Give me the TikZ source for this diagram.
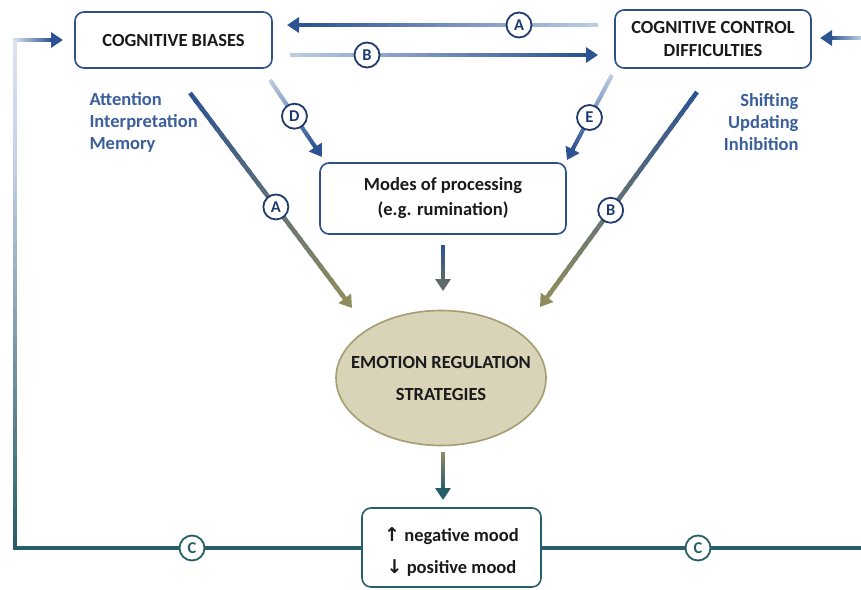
\documentclass[tikz,border=0pt]{standalone}
\usepackage{fontspec}
\setmainfont{Carlito}
\newfontfamily\symfont{DejaVu Sans}
\usetikzlibrary{arrows.meta,calc,shapes.geometric}

\definecolor{navyring}{HTML}{1F3B6E}
\definecolor{boxblue}{HTML}{2E5088}
\definecolor{arrowblue}{HTML}{2C5392}
\definecolor{paleblue}{HTML}{BDCBE3}
\definecolor{labelblue}{HTML}{3B5E9C}
\definecolor{olivearrow}{HTML}{8E8C5E}
\definecolor{loopteal}{HTML}{285E68}
\definecolor{lavender}{HTML}{C9D0EC}
\definecolor{palegray}{HTML}{DDE2EE}
\definecolor{ellfill}{HTML}{D9D3B7}
\definecolor{ellline}{HTML}{A39D72}
\definecolor{slatearrow}{HTML}{5D6A68}
\definecolor{inktext}{HTML}{1A1A1A}

% straight stroke whose colour runs from #4 (at #2) to #5 (at #3)
\newcommand\gradline[5]{%
  \foreach \k in {0,...,29}{%
    \pgfmathsetmacro\ta{\k/30}%
    \pgfmathsetmacro\tb{min((\k+1.4)/30,1)}%
    \pgfmathtruncatemacro\pc{100-100*\k/29}%
    \draw[line width=#1, line cap=butt, draw=#4!\pc!#5]
      ($(#2)!\ta!(#3)$) -- ($(#2)!\tb!(#3)$);
  }}
% the same, ending in an arrow head at #3
\newcommand\gradarrow[5]{%
  \coordinate (gaback) at ($(#3)!10pt!(#2)$);
  \gradline{#1}{#2}{gaback}{#4}{#5}
  \draw[line width=#1, draw=#5, -{Triangle[width=15pt,length=12pt,fill=#5]}]
    ($(#3)!13pt!(#2)$) -- (#3);
}

\tikzset{
  box/.style={draw=boxblue, line width=1.6pt, rounded corners=9pt, fill=white,
    align=center, text=inktext, font=\bfseries\fontsize{18.5}{23}\selectfont},
  tag/.style={circle, draw=navyring, line width=1.8pt, fill=white,
    minimum size=25pt, inner sep=0pt, text=navyring,
    font=\bfseries\fontsize{16.5}{16.5}\selectfont},
  tagc/.style={tag, draw=loopteal, text=loopteal},
  kinds/.style={text=labelblue, font=\bfseries\fontsize{18.5}{22}\selectfont},
}
\newcommand\updown[1]{{\symfont\bfseries\fontsize{19}{19}\selectfont#1}}

\begin{document}
\begin{tikzpicture}[x=1pt,y=-1pt]
\useasboundingbox (0,0) rectangle (861,589);

% boxes
\node[box, minimum width=197pt, minimum height=56pt] (biases) at (173.5,40) {COGNITIVE BIASES};
\node[box, minimum width=196pt, minimum height=58pt] (control) at (713,39) {COGNITIVE CONTROL\\DIFFICULTIES};
\node[box, minimum width=246pt, minimum height=71pt, font=\bfseries\fontsize{18.5}{25}\selectfont] (modes) at (443,198.5) {Modes of processing\\(e.g. rumination)};
\node[ellipse, draw=ellline, fill=ellfill, line width=1.6pt, minimum width=210pt, minimum height=135pt,
      inner xsep=-17pt, inner ysep=0pt,
      align=center, text=inktext, font=\bfseries\fontsize{18.5}{32}\selectfont] (ers) at (441,378)
      {EMOTION REGULATION\\STRATEGIES};
\node[box, draw=loopteal, minimum width=179pt, minimum height=79pt, font=\bfseries\fontsize{18.5}{32}\selectfont] (mood) at (451.5,547.5)
      {\raisebox{-8pt}[0pt][0pt]{\begin{tabular}{@{}c@{}}\updown{↑} negative mood\\\updown{↓} positive mood\end{tabular}}};

% sub-processes
\node[kinds, align=left, anchor=west] (biaskinds) at (86,122) {Attention\\Interpretation\\Memory};
\node[kinds, align=right, anchor=east] (controlkinds) at (802,122) {Shifting\\Updating\\Inhibition};

% end points of the connectors
\coordinate (aS) at (598,25);  \coordinate (aE) at (287,25);
\coordinate (bS) at (290,55);  \coordinate (bE) at (598,55);
\coordinate (dS) at (270,80);  \coordinate (dE) at (322,157);
\coordinate (eS) at (612,75);  \coordinate (eE) at (567,160);
\coordinate (pS) at (190,93);  \coordinate (pE) at (352,308);
\coordinate (qS) at (697,92);  \coordinate (qE) at (540,307);
\coordinate (mS) at (443,245); \coordinate (mE) at (443,291);
\coordinate (rS) at (443,452); \coordinate (rE) at (443,500);
\coordinate (loopBL) at (15,548);
\coordinate (loopML) at (15,150);
\coordinate (loopTL) at (15,40);
\coordinate (loopTL0) at (13,40);
\coordinate (loopIn) at (63,40);
\coordinate (loopBR) at (862,548);
\coordinate (rightS) at (861,38);
\coordinate (rightIn) at (820,38);

% links between the two kinds of difficulty
\gradarrow{4pt}{aS}{aE}{paleblue}{arrowblue}
\gradarrow{4pt}{bS}{bE}{paleblue}{arrowblue}
% links into the modes of processing
\gradarrow{4pt}{dS}{dE}{paleblue}{arrowblue}
\gradarrow{4pt}{eS}{eE}{paleblue}{arrowblue}
% direct links into emotion regulation
\gradarrow{4.5pt}{pS}{pE}{arrowblue}{olivearrow}
\gradarrow{4.5pt}{qS}{qE}{arrowblue}{olivearrow}
% vertical chain
\gradarrow{4.5pt}{mS}{mE}{arrowblue}{slatearrow}
\gradarrow{4.5pt}{rS}{rE}{olivearrow}{loopteal}

% feedback loop from mood back to both kinds of difficulty
\draw[line width=4pt, line cap=rect, loopteal] (mood.west |- loopBL) -- (loopBL);
\gradline{4pt}{loopBL}{loopML}{loopteal}{lavender}
\gradline{4pt}{loopML}{loopTL}{lavender}{palegray}
\gradarrow{4pt}{loopTL0}{loopIn}{palegray}{arrowblue}
\draw[line width=4pt, loopteal] (mood.east |- loopBR) -- (loopBR);
\gradarrow{4pt}{rightS}{rightIn}{paleblue}{arrowblue}

% pathway tags
\node[tag] (tagA1) at (519,25) {A};
\node[tag] (tagB1) at (367,55) {B};
\node[tag] (tagD) at ($(dS)!0.47!(dE)$) {D};
\node[tag] (tagE) at ($(eS)!0.5!(eE)$) {E};
\node[tag] (tagA2) at ($(pS)!0.53!(pE)$) {A};
\node[tag] (tagB2) at ($(qS)!0.55!(qE)$) {B};
\node[tagc] (tagC1) at (192,548) {C};
\node[tagc] (tagC2) at (698,548) {C};
\end{tikzpicture}
\end{document}
